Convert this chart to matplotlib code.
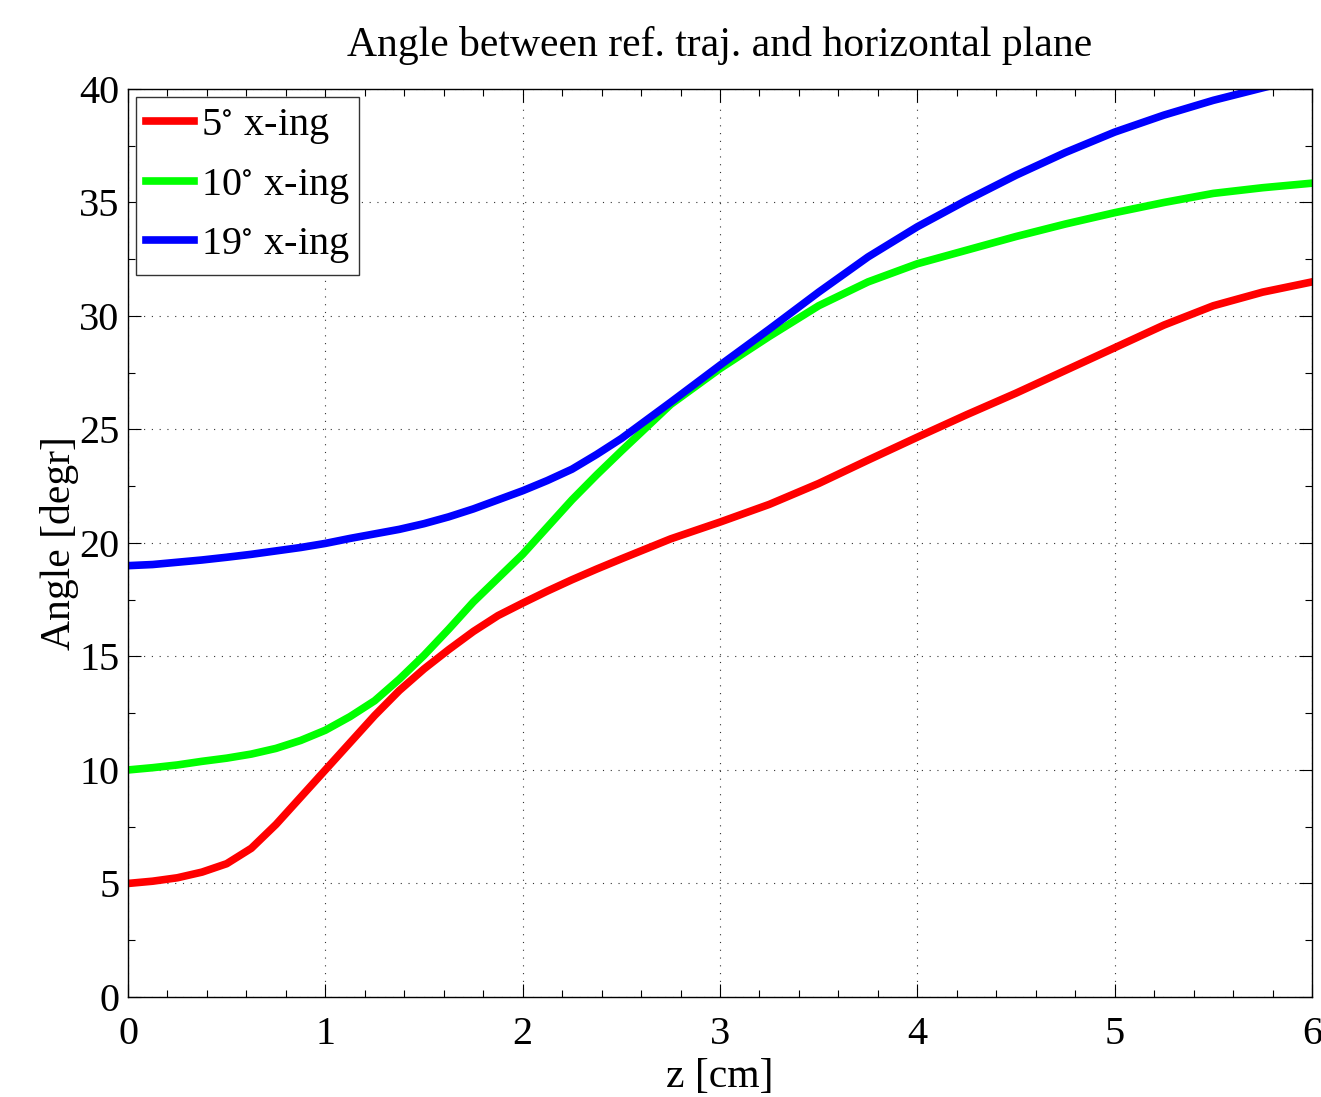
import matplotlib
matplotlib.use("Agg")
import matplotlib.pyplot as plt
from matplotlib.ticker import MultipleLocator

plt.rcParams["font.family"] = ["Liberation Serif", "DejaVu Serif"]
plt.rcParams["mathtext.fontset"] = "stix"

# z positions [cm] and angles [degr]
z_cm = [0, 0.125, 0.25, 0.375, 0.5, 0.625, 0.75, 0.875, 1.0, 1.125, 1.25,
        1.375, 1.5, 1.625, 1.75, 1.875, 2.0, 2.125, 2.25, 2.375, 2.5,
        2.75, 3.0, 3.25, 3.5, 3.75, 4.0, 4.25, 4.5, 4.75, 5.0, 5.25, 5.5,
        5.75, 6.0]
angle_5 = [5.0, 5.1, 5.25, 5.5, 5.87, 6.55, 7.6, 8.8, 10.0, 11.2, 12.4,
           13.5, 14.45, 15.3, 16.1, 16.8, 17.35, 17.88, 18.38, 18.85, 19.3,
           20.18, 20.92, 21.7, 22.62, 23.65, 24.66, 25.65, 26.6, 27.6, 28.6,
           29.6, 30.45, 31.05, 31.5]
angle_10 = [10.0, 10.1, 10.22, 10.38, 10.52, 10.7, 10.95, 11.3, 11.75, 12.35,
            13.05, 14.0, 15.05, 16.2, 17.4, 18.45, 19.5, 20.7, 21.9, 23.0,
            24.05, 26.1, 27.68, 29.1, 30.45, 31.5, 32.3, 32.9, 33.5, 34.05,
            34.55, 35.0, 35.4, 35.65, 35.85]
angle_19 = [19.0, 19.05, 19.15, 19.25, 19.37, 19.5, 19.65, 19.8, 19.98, 20.2,
            20.4, 20.6, 20.85, 21.15, 21.5, 21.9, 22.3, 22.75, 23.25, 23.9,
            24.6, 26.2, 27.83, 29.42, 31.05, 32.6, 33.93, 35.1, 36.2, 37.2,
            38.1, 38.85, 39.5, 40.05, 40.6]

labels = [r"5$^{\circ}$ x-ing", r"10$^{\circ}$ x-ing", r"19$^{\circ}$ x-ing"]
colors = ["#ff0000", "#00ff00", "#0000ff"]

fig = plt.figure(figsize=(13.21, 10.97), dpi=100)
ax = fig.add_axes([0.0969, 0.0912, 0.8963, 0.8277])

for vals, lab, col in zip([angle_5, angle_10, angle_19], labels, colors):
    ax.plot(z_cm, vals, color=col, lw=5.5, label=lab)

ax.set_xlim(0, 6)
ax.set_ylim(0, 40)
ax.xaxis.set_major_locator(MultipleLocator(1))
ax.xaxis.set_minor_locator(MultipleLocator(0.2))
ax.yaxis.set_major_locator(MultipleLocator(5))
ax.yaxis.set_minor_locator(MultipleLocator(2.5))
ax.tick_params(which="both", direction="in", top=True, right=True,
               width=0.8, labelsize=29)
ax.tick_params(axis="x", pad=14)
ax.tick_params(axis="y", pad=6)
ax.tick_params(which="major", length=9.5)
ax.tick_params(which="minor", length=5)
ax.grid(True, which="major", color="#333333", lw=0.8, linestyle=(0, (1, 6)))
for sp in ax.spines.values():
    sp.set_linewidth(1.0)

ax.set_title("Angle between ref. traj. and horizontal plane", fontsize=30, pad=24)
ax.set_xlabel("z [cm]", fontsize=30, labelpad=3)
ax.set_ylabel("Angle [degr]", fontsize=30, labelpad=0)

leg = ax.legend(loc="upper left", fontsize=29, handlelength=1.2,
                handletextpad=0.15, borderaxespad=0.2, labelspacing=0.5,
                borderpad=0.25, fancybox=False, framealpha=1)
leg.get_frame().set_edgecolor("#333333")
leg.get_frame().set_linewidth(1.0)

fig.savefig("out.png", dpi=100)
